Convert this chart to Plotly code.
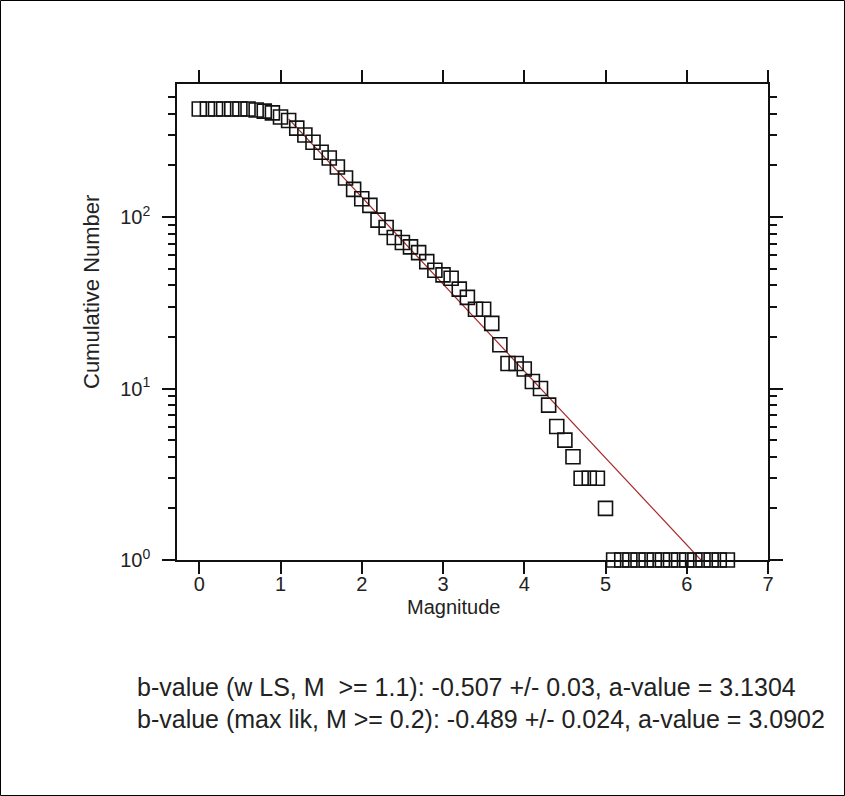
import numpy as np
import plotly.graph_objects as go

# ---- data ----
magnitude = [0.0, 0.1, 0.2, 0.3, 0.4, 0.5, 0.6, 0.7, 0.8, 0.9,
             1.0, 1.1, 1.2, 1.3, 1.4, 1.5, 1.6, 1.7, 1.8, 1.9,
             2.0, 2.1, 2.2, 2.3, 2.4, 2.5, 2.6, 2.7, 2.8, 2.9,
             3.0, 3.1, 3.2, 3.3, 3.4, 3.5, 3.6, 3.7, 3.8, 3.9,
             4.0, 4.1, 4.2, 4.3, 4.4, 4.5, 4.6, 4.7, 4.8, 4.9,
             5.0, 5.1, 5.2, 5.3, 5.4, 5.5, 5.6, 5.7, 5.8, 5.9,
             6.0, 6.1, 6.2, 6.3, 6.4, 6.5]
cum_number = [427, 427, 427, 427, 427, 427, 427, 421, 415, 405,
              383, 366, 330, 301, 273, 239, 221, 196, 169, 145,
              128, 117, 96, 87, 76, 71, 67, 62, 55, 49,
              46, 44, 38, 34, 29, 29, 24, 18, 14, 14,
              13, 11, 10, 8, 6, 5, 4, 3, 3, 3,
              2, 1, 1, 1, 1, 1, 1, 1, 1, 1,
              1, 1, 1, 1, 1, 1]

# fit (weighted LS) parameters from the annotation
fit_a = 3.1304
fit_b = -0.507
fit_mc = 1.1

x_ticks = [0, 1, 2, 3, 4, 5, 6, 7]
y_ticks = [1, 10, 100]
y_ticktext = ["10<sup>0</sup>", "10<sup>1</sup>", "10<sup>2</sup>"]
y_minor = [2, 3, 4, 5, 6, 7, 8, 9, 20, 30, 40, 50, 60, 70, 80, 90, 200, 300, 400, 500]

x_title = "Magnitude"
y_title = "Cumulative Number"
text_lines = [
    "b-value (w LS, M\u00a0 >= 1.1): -0.507 +/- 0.03, a-value = 3.1304",
    "b-value (max lik, M >= 0.2): -0.489 +/- 0.024, a-value = 3.0902",
]

# ---- figure ----
W, H = 845, 796
L, R, T, B = 177, 77, 84, 236
pw, ph = W - L - R, H - T - B


def px_x(p):
    return (p - L) / pw


def px_y(p):
    return (H - B - p) / ph


fit_m = np.array([fit_mc, max(magnitude)])
fit_n = 10 ** (fit_a + fit_b * fit_m)

fig = go.Figure()
fig.add_trace(go.Scatter(
    x=fit_m, y=fit_n, mode="lines",
    line=dict(color="#a82828", width=1.2), showlegend=False, hoverinfo="skip"))
fig.add_trace(go.Scatter(
    x=magnitude, y=cum_number, mode="markers",
    marker=dict(symbol="square-open", size=14, color="#111111",
                line=dict(width=1.6, color="#111111")),
    cliponaxis=False, showlegend=False))

font_family = "Liberation Sans, Arial, sans-serif"

fig.update_layout(
    width=W, height=H,
    margin=dict(l=L, r=R, t=T, b=B, pad=0),
    paper_bgcolor="white", plot_bgcolor="white",
    font=dict(family=font_family, size=20, color="#222222"),
    showlegend=False,
)
fig.update_xaxes(
    range=[-0.274, 7.0], tickvals=x_ticks, ticks="outside", ticklen=12,
    tickwidth=1.5, tickcolor="#111111", showline=True, linecolor="#111111",
    linewidth=1.5, mirror="allticks", showgrid=False, zeroline=False,
    tickfont=dict(size=20), ticklabelstandoff=-7,
)
fig.update_yaxes(
    type="log", range=[0, 2.776], tickvals=y_ticks, ticktext=y_ticktext,
    ticks="outside", ticklen=13, tickwidth=1.5, tickcolor="#111111",
    showline=True, linecolor="#111111", linewidth=1.5, mirror="allticks",
    showgrid=False, zeroline=False, tickfont=dict(size=20),
    ticklabelstandoff=8,
    minor=dict(tickvals=y_minor, ticks="outside", ticklen=7, tickwidth=1.5,
               tickcolor="#111111", showgrid=False),
)

# axis titles
fig.add_annotation(text=x_title, xref="paper", yref="paper",
                   x=px_x(453), y=px_y(607), xanchor="center", yanchor="middle",
                   showarrow=False, font=dict(size=20, color="#222222", family=font_family))
fig.add_annotation(text=y_title, xref="paper", yref="paper",
                   x=px_x(91), y=px_y(292), xanchor="center", yanchor="middle",
                   textangle=-90, showarrow=False,
                   font=dict(size=22, color="#222222", family=font_family))

# bottom text block
ys_px = [687, 719]
for line, ypx in zip(text_lines, ys_px):
    fig.add_annotation(
        text=line, xref="paper", yref="paper",
        x=px_x(135), y=px_y(ypx),
        xanchor="left", yanchor="middle", showarrow=False,
        font=dict(size=25, color="#222222", family=font_family))

# outer frame of the picture
fig.add_shape(type="rect", xref="paper", yref="paper",
              x0=px_x(0.5), x1=px_x(W - 0.5),
              y0=px_y(H - 0.5), y1=px_y(0.5),
              line=dict(color="#000000", width=1), layer="above")

fig.write_html("out.html")
